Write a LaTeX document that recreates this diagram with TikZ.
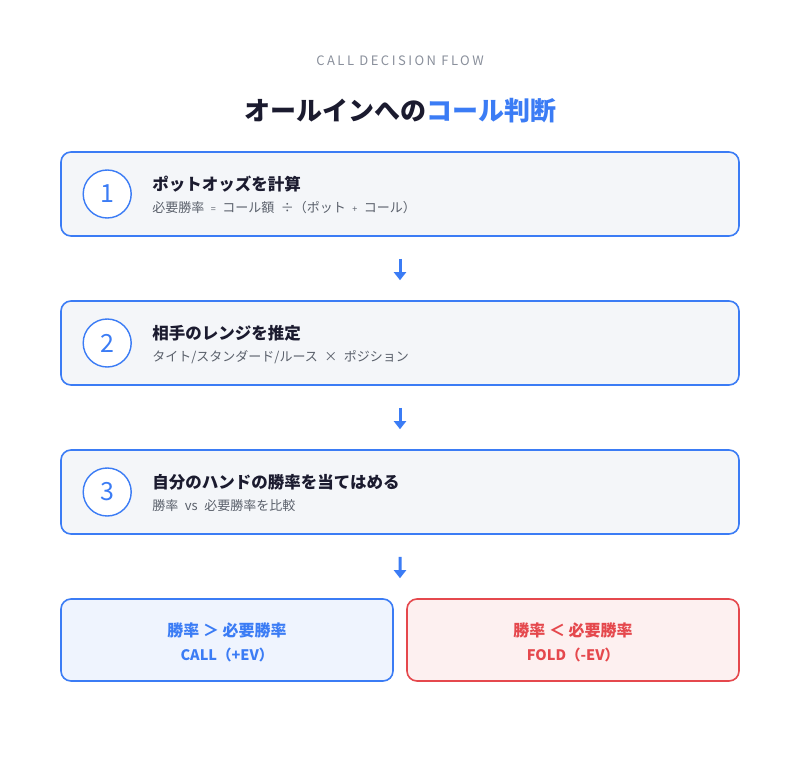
\documentclass[tikz,border=0pt]{standalone}
\usepackage{fontspec}
\setmainfont{Noto Sans CJK JP}
\newfontfamily\jpfont{Noto Sans CJK JP}
\usetikzlibrary{positioning, calc, arrows.meta}

\definecolor{flowblue}{HTML}{3B7CF5}
\definecolor{flowred}{HTML}{E5484D}
\definecolor{stepfill}{HTML}{F4F6F9}
\definecolor{callfill}{HTML}{EFF4FE}
\definecolor{foldfill}{HTML}{FDF0F0}
\definecolor{titleink}{HTML}{1B1B2F}
\definecolor{subink}{HTML}{5A606B}
\definecolor{headink}{HTML}{8A909C}

\begin{document}
\begin{tikzpicture}[x=1pt, y=-1pt]
  \newcommand\boxwidth{678}
  \newcommand\boxheight{84}
  \newcommand\halfwidth{332}
  \newcommand\circleoffset{47}
  \newcommand\textoffset{92}
  \newcommand\gap{\hspace{0.5em}}

  \tikzset{flowarrow/.style={-{Triangle[width=12pt, length=8pt]}, line width=3pt, draw=flowblue}}

  \tikzset{stepbox/.style={draw=flowblue, line width=1.6pt, fill=stepfill, rounded corners=10pt, minimum width=\boxwidth pt, minimum height=\boxheight pt}}
  \tikzset{stepnum/.style={circle, draw=flowblue, line width=1.4pt, fill=white, minimum size=48pt, inner sep=0pt, text=flowblue, font=\fontsize{25}{27}\selectfont}}
  \tikzset{steptitle/.style={anchor=west, inner sep=0pt, text=titleink, font=\fontsize{16.5}{18}\selectfont\bfseries}}
  \tikzset{stepsub/.style={anchor=west, inner sep=0pt, text=subink, font=\fontsize{13}{15}\selectfont}}

  \tikzset{resultbox/.style={line width=1.6pt, rounded corners=10pt, minimum width=\halfwidth pt, minimum height=82pt}}
  \tikzset{callbox/.style={resultbox, draw=flowblue, fill=callfill}}
  \tikzset{foldbox/.style={resultbox, draw=flowred, fill=foldfill}}
  \tikzset{resulttext/.style={inner sep=0pt, font=\fontsize{16}{18}\selectfont\bfseries}}
  \tikzset{resultsub/.style={inner sep=0pt, font=\fontsize{14.5}{16}\selectfont\bfseries}}

  \useasboundingbox[fill=white] (0, 0) rectangle (800, 760);

  % heading
  \node[text=headink, font=\fontsize{13}{15}\selectfont\addfontfeatures{LetterSpace=19}] (head) at (400, 61) {CALL DECISION FLOW};
  \node[text=titleink, font=\fontsize{26}{30}\selectfont\bfseries] (title) at (400, 111) {オールインへの\textcolor{flowblue}{コール判断}};

  % steps
  \foreach \idx/\ypos/\main/\sub in {1/194/ポットオッズを計算/{必要勝率\gap{\small =}\gap コール額\gap ÷（ポット\gap{\small +}\gap コール）},
                                     2/343/相手のレンジを推定/{タイト/スタンダード/ルース\gap ×\gap ポジション},
                                     3/492/自分のハンドの勝率を当てはめる/{勝率\gap vs\gap 必要勝率を比較}}{
    \node[stepbox] (box\idx) at (400, \ypos) {};
    \node[stepnum] (num\idx) at ($(box\idx.west)+(\circleoffset, 0)$) {\idx};
    \node[steptitle] (main\idx) at ($(box\idx.west)+(\textoffset, -10)$) {\main};
    \node[stepsub] (sub\idx) at ($(box\idx.west)+(\textoffset, 14)$) {\sub};
  }

  % results
  \node[callbox] (call) at (227, 640) {};
  \node[foldbox] (fold) at (573, 640) {};
  \node[resulttext, text=flowblue] (calltop) at ($(call.center)+(0, -10)$) {勝率 ＞ 必要勝率};
  \node[resultsub, text=flowblue] (callsub) at ($(call.center)+(0, 15)$) {CALL（+EV）};
  \node[resulttext, text=flowred] (foldtop) at ($(fold.center)+(0, -10)$) {勝率 ＜ 必要勝率};
  \node[resultsub, text=flowred] (foldsub) at ($(fold.center)+(0, 15)$) {FOLD（-EV）};
  \coordinate (split) at ($(call.north east)!0.5!(fold.north west)$);

  % arrows
  \draw[flowarrow, shorten <=22pt, shorten >=20pt] (box1.south) -- (box2.north);
  \draw[flowarrow, shorten <=22pt, shorten >=20pt] (box2.south) -- (box3.north);
  \draw[flowarrow, shorten <=22pt, shorten >=20pt] (box3.south) -- (split);
\end{tikzpicture}
\end{document}
